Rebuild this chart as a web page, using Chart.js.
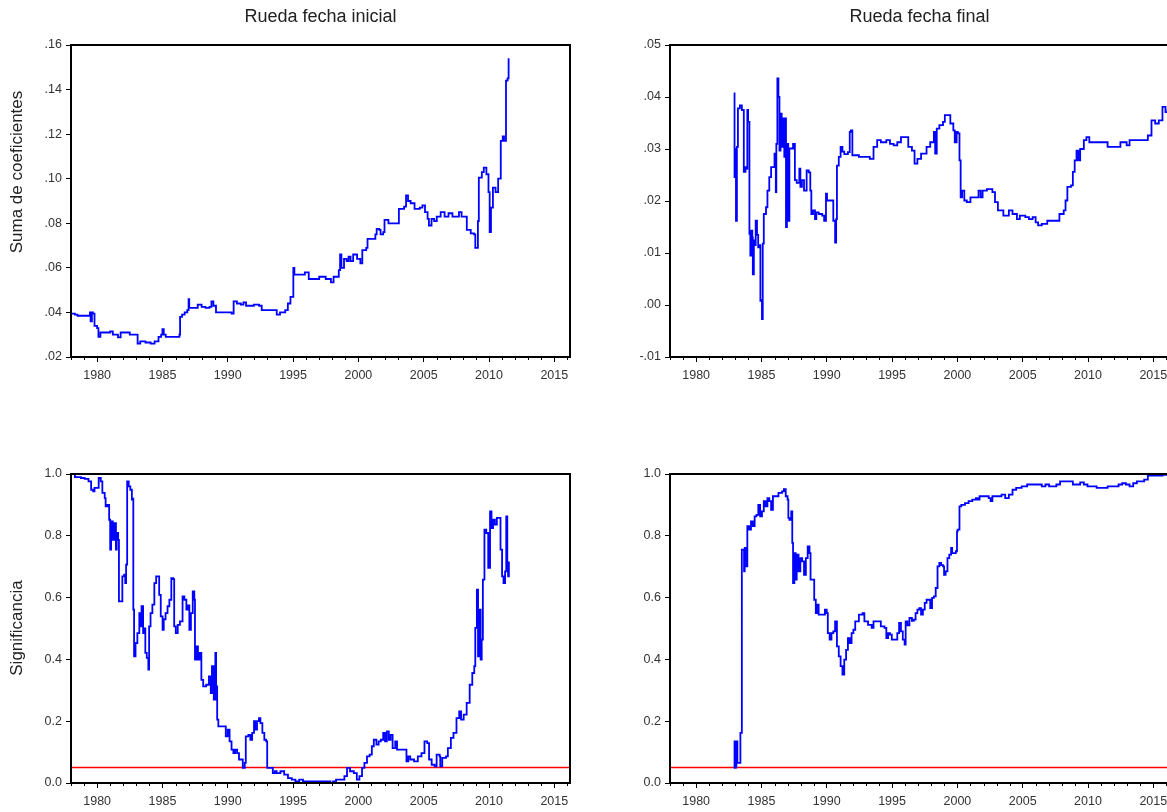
<!DOCTYPE html>
<html>
<head>
<meta charset="utf-8">
<title>Rueda fecha inicial / Rueda fecha final</title>
<script src="https://cdn.jsdelivr.net/npm/chart.js@4.4.1/dist/chart.umd.min.js"></script>
<style>
  html, body { margin: 0; padding: 0; background: #fff; overflow: hidden; }
  #page { position: relative; width: 1167px; height: 812px; overflow: hidden; background: #fff; }
  .panel { position: absolute; width: 600px; height: 410px; }
</style>
</head>
<body>
<div id="page">
  <div class="panel" style="left:0px;top:0px"><canvas id="c1" width="600" height="410"></canvas></div>
  <div class="panel" style="left:599px;top:0px"><canvas id="c2" width="600" height="410"></canvas></div>
  <div class="panel" style="left:0px;top:429px"><canvas id="c3" width="600" height="410"></canvas></div>
  <div class="panel" style="left:599px;top:429px"><canvas id="c4" width="600" height="410"></canvas></div>
</div>
<script>
// values (x = year as decimal)
var sumaInicialX = [1978.0,1978.3,1978.5,1979.3,1979.45,1979.5,1979.6,1979.68,1979.8,1980.0,1980.1,1980.25,1980.6,1981.0,1981.2,1981.5,1981.6,1981.8,1982.4,1982.5,
    1983.0,1983.1,1983.3,1983.7,1984.1,1984.4,1984.7,1984.9,1985.0,1985.1,1985.25,1986.2,1986.3,1986.35,1986.5,1986.7,1986.9,1987.0,1987.05,1987.5,
    1987.7,1988.0,1988.3,1988.6,1988.75,1988.9,1989.1,1989.5,1990.0,1990.3,1990.45,1990.7,1991.0,1991.2,1991.4,1992.0,1992.4,1992.6,1993.0,1993.7,
    1993.75,1994.0,1994.4,1994.6,1994.8,1994.98,1995.02,1995.1,1995.5,1995.9,1996.2,1996.8,1997.0,1997.5,1997.9,1998.1,1998.5,1998.6,1998.7,1998.9,
    1999.1,1999.25,1999.4,1999.6,1999.9,2000.15,2000.3,2000.6,2000.7,2001.0,2001.3,2001.4,2001.6,2001.7,2001.9,2002.0,2002.3,2003.0,2003.1,2003.5,
    2003.65,2003.8,2004.0,2004.3,2004.7,2004.9,2005.1,2005.3,2005.4,2005.6,2005.8,2006.0,2006.3,2006.6,2006.9,2007.2,2007.5,2007.7,2007.9,2008.3,
    2008.6,2008.85,2008.95,2009.08,2009.15,2009.22,2009.45,2009.6,2009.8,2009.96,2010.05,2010.15,2010.3,2010.5,2010.7,2010.9,2011.05,2011.15,2011.3,2011.42,
    2011.5];
var sumaInicialY = [.0395,.039,.0385,.0385,.040,.036,.040,.0395,.034,.033,.029,.031,.031,.0315,.030,.030,.0288,.031,.031,.030,
    .030,.026,.027,.0265,.026,.027,.029,.030,.0325,.030,.029,.029,.030,.038,.039,.040,.041,.046,.042,.042,
    .0435,.0425,.042,.0425,.045,.043,.040,.040,.040,.0395,.045,.044,.0435,.0445,.043,.0435,.043,.041,.041,.041,
    .039,.040,.041,.044,.047,.047,.060,.057,.057,.058,.055,.055,.056,.055,.0535,.056,.059,.066,.060,.064,
    .063,.065,.063,.066,.064,.062,.068,.069,.073,.073,.075,.0775,.077,.075,.076,.0815,.080,.080,.0865,.0875,
    .0925,.090,.089,.0865,.087,.088,.085,.082,.079,.082,.081,.083,.085,.083,.0845,.083,.083,.085,.083,.077,
    .0755,.075,.069,.069,.081,.1005,.103,.105,.102,.094,.076,.087,.096,.094,.100,.117,.119,.117,.144,.145,
    .154];

var sumaFinalX = [1982.88,1982.94,1983.0,1983.05,1983.12,1983.2,1983.35,1983.5,1983.6,1983.65,1983.78,1983.85,1983.92,1983.98,1984.04,1984.08,1984.15,1984.22,1984.3,1984.34,
    1984.42,1984.5,1984.56,1984.66,1984.75,1984.85,1984.92,1985.0,1985.04,1985.1,1985.18,1985.35,1985.46,1985.6,1985.74,1985.88,1986.0,1986.06,1986.1,1986.14,
    1986.22,1986.3,1986.38,1986.46,1986.55,1986.64,1986.75,1986.82,1986.88,1986.95,1987.05,1987.14,1987.3,1987.42,1987.56,1987.7,1987.9,1987.98,1988.1,1988.26,
    1988.46,1988.62,1988.74,1988.82,1988.95,1989.1,1989.2,1989.38,1989.65,1989.8,1989.94,1990.02,1990.36,1990.5,1990.64,1990.72,1990.78,1990.92,1991.06,1991.2,
    1991.34,1991.62,1991.76,1991.85,1991.96,1992.46,1993.3,1993.58,1993.86,1994.14,1994.56,1994.84,1995.12,1995.4,1995.68,1995.96,1996.24,1996.52,1996.72,1996.94,
    1997.22,1997.64,1997.92,1998.2,1998.3,1998.42,1998.62,1998.9,1999.04,1999.32,1999.46,1999.69,1999.8,1999.94,2000.04,2000.16,2000.25,2000.36,2000.53,2000.72,
    2001.0,2001.42,2001.62,2001.78,2001.93,2002.26,2002.68,2002.88,2003.1,2003.52,2003.94,2004.22,2004.56,2004.78,2005.2,2005.48,2005.76,2005.99,2006.18,2006.46,
    2006.88,2007.58,2007.81,2008.14,2008.28,2008.42,2008.7,2008.84,2008.98,2009.12,2009.26,2009.4,2009.68,2009.88,2010.1,2011.22,2011.5,2012.2,2012.48,2012.8,
    2012.96,2013.18,2014.02,2014.58,2014.86,2015.14,2015.42,2015.7,2015.93,2016.1];
var sumaFinalY = [.0407,.0246,.030,.0162,.0304,.0378,.0384,.0375,.0375,.0256,.0265,.0262,.0375,.0352,.0352,.0137,.0095,.0143,.013,.0059,
    .0124,.0115,.0162,.0135,.0111,.0115,.0008,.001,-.0027,.0118,.0175,.0188,.022,.0246,.0265,.0265,.0291,.0291,.0217,.031,
    .0436,.040,.0297,.0368,.0304,.0359,.0285,.0359,.015,.031,.0162,.0301,.0301,.031,.024,.0235,.0262,.0227,.024,.022,
    .0259,.0255,.022,.0175,.0182,.0165,.0178,.0175,.0172,.0162,.0214,.0201,.0201,.0162,.012,.0165,.0268,.0285,.0304,.0295,
    .029,.0294,.0333,.0336,.0288,.0285,.0281,.0304,.0317,.0313,.0317,.031,.0307,.0313,.0323,.0323,.0304,.0297,.0272,.0281,
    .0291,.0304,.0313,.0333,.0291,.0339,.0346,.0352,.0365,.0365,.0349,.0336,.0313,.0333,.033,.0278,.0207,.022,.0201,.0198,
    .0207,.0207,.022,.0207,.022,.0223,.0217,.0198,.0182,.0172,.0182,.0175,.0165,.0172,.0169,.0165,.0169,.0159,.0153,.0156,
    .0162,.0162,.0175,.0182,.0201,.0227,.023,.0256,.0278,.0297,.0278,.030,.0317,.0323,.0313,.0313,.0304,.0304,.0313,.0313,
    .0307,.0317,.0317,.0326,.0355,.0349,.0355,.0381,.0371,.0378];

var sigInicialX = [1978.0,1978.3,1978.76,1979.05,1979.34,1979.54,1979.7,1979.8,1980.0,1980.12,1980.28,1980.4,1980.58,1980.65,1980.78,1980.92,1981.0,1981.07,1981.2,1981.33,
    1981.44,1981.5,1981.61,1981.67,1981.84,1981.93,1982.07,1982.15,1982.22,1982.3,1982.42,1982.54,1982.66,1982.72,1982.77,1982.83,1982.94,1983.08,1983.23,1983.32,
    1983.4,1983.52,1983.6,1983.69,1983.8,1983.92,1983.98,1984.09,1984.23,1984.38,1984.52,1984.66,1984.75,1984.87,1985.01,1985.1,1985.24,1985.39,1985.53,1985.68,
    1985.82,1985.9,1986.02,1986.17,1986.34,1986.54,1986.68,1986.83,1986.97,1987.06,1987.18,1987.32,1987.44,1987.49,1987.61,1987.72,1987.84,1987.98,1988.12,1988.35,
    1988.56,1988.7,1988.79,1988.93,1989.05,1989.11,1989.19,1989.28,1989.56,1989.85,1990.0,1990.14,1990.29,1990.43,1990.57,1990.72,1990.86,1991.15,1991.3,1991.38,
    1991.58,1991.73,1991.87,1992.01,1992.1,1992.24,1992.39,1992.5,1992.65,1992.8,1992.94,1993.02,1993.31,1993.45,1993.6,1993.74,1994.03,1994.32,1994.61,1994.9,
    1995.18,1995.47,1995.76,1996.05,1996.48,1997.06,1997.63,1997.86,1998.06,1998.29,1998.64,1998.93,1999.13,1999.36,1999.65,1999.88,2000.08,2000.28,2000.46,2000.66,
    2000.86,2001.03,2001.18,2001.38,2001.55,2001.72,2001.9,2002.04,2002.18,2002.33,2002.47,2002.62,2002.82,2002.96,2003.25,2003.55,2003.68,2003.82,2003.97,2004.26,
    2004.55,2004.83,2005.06,2005.27,2005.41,2005.61,2005.84,2005.99,2006.22,2006.27,2006.42,2006.71,2006.85,2007.08,2007.28,2007.51,2007.72,2007.86,2008.06,2008.29,
    2008.52,2008.72,2008.87,2008.95,2009.07,2009.16,2009.27,2009.36,2009.44,2009.53,2009.65,2009.79,2009.94,2010.08,2010.19,2010.31,2010.45,2010.6,2010.77,2010.88,
    2011.0,2011.11,2011.23,2011.32,2011.4,2011.46,2011.52];
var sigInicialY = [1.0,.99,.987,.984,.976,.949,.944,.955,.955,.987,.976,.939,.922,.895,.9,.852,.755,.847,.787,.841,
    .755,.809,.787,.588,.588,.669,.674,.647,.707,.976,.96,.949,.917,.92,.561,.41,.453,.485,.55,.507,
    .572,.485,.5,.421,.405,.367,.507,.55,.577,.647,.669,.669,.609,.539,.496,.53,.55,.572,.593,.663,
    .66,.507,.485,.512,.523,.604,.593,.561,.575,.496,.55,.62,.593,.399,.442,.399,.421,.334,.313,.318,
    .345,.291,.378,.27,.421,.313,.205,.183,.183,.151,.173,.135,.108,.097,.108,.097,.076,.049,.065,.151,
    .156,.14,.162,.2,.173,.2,.21,.194,.162,.14,.135,.049,.049,.032,.038,.032,.038,.027,.016,.011,
    .005,.011,.005,.005,.005,.005,.005,0,.005,.011,.011,.022,.049,.038,.032,.011,.022,.049,.065,.086,
    .092,.119,.14,.124,.135,.14,.162,.135,.167,.14,.156,.113,.135,.108,.108,.108,.07,.086,.076,.07,
    .086,.097,.135,.129,.076,.059,.054,.092,.086,.054,.081,.086,.113,.146,.162,.21,.232,.205,.221,.259,
    .318,.356,.378,.502,.626,.41,.561,.399,.464,.658,.82,.809,.696,.879,.825,.852,.836,.858,.858,.755,
    .669,.647,.685,.863,.712,.669,.717];

var sigFinalX = [1982.88,1982.94,1983.01,1983.08,1983.16,1983.3,1983.39,1983.45,1983.5,1983.58,1983.67,1983.72,1983.78,1983.92,1984.06,1984.2,1984.34,1984.48,1984.62,1984.76,
    1984.9,1985.04,1985.18,1985.32,1985.46,1985.6,1985.74,1985.88,1986.16,1986.3,1986.58,1986.72,1986.86,1987.0,1987.06,1987.14,1987.28,1987.36,1987.42,1987.52,
    1987.62,1987.7,1987.84,1987.98,1988.12,1988.26,1988.4,1988.54,1988.68,1988.76,1988.9,1989.04,1989.16,1989.24,1989.38,1989.66,1989.86,1990.0,1990.08,1990.22,
    1990.36,1990.5,1990.64,1990.78,1990.92,1991.06,1991.2,1991.34,1991.48,1991.62,1991.76,1991.9,1992.04,1992.18,1992.46,1992.74,1992.88,1993.16,1993.44,1993.58,
    1993.86,1994.14,1994.42,1994.56,1994.7,1994.84,1994.98,1995.2,1995.4,1995.54,1995.68,1995.82,1995.96,1996.04,1996.18,1996.33,1996.52,1996.66,1996.8,1996.94,
    1997.08,1997.22,1997.36,1997.5,1997.64,1997.92,1998.06,1998.2,1998.34,1998.48,1998.62,1998.76,1998.9,1998.98,1999.1,1999.24,1999.38,1999.52,1999.6,1999.74,
    1999.88,1999.97,2000.02,2000.16,2000.3,2000.58,2000.86,2001.14,2001.42,2001.56,2001.7,2002.12,2002.4,2002.54,2002.68,2003.1,2003.38,2003.66,2003.94,2004.22,
    2004.5,2004.92,2005.34,2006.18,2006.46,2006.74,2007.02,2007.58,2007.86,2008.7,2008.84,2009.12,2009.4,2009.68,2009.96,2010.38,2010.66,2011.08,2011.5,2012.34,
    2012.62,2012.9,2013.18,2013.46,2013.74,2014.02,2014.3,2014.58,2015.7,2016.15];
var sigFinalY = [.049,.135,.05,.135,.065,.065,.162,.162,.755,.755,.685,.761,.701,.831,.82,.847,.831,.863,.868,.9,
    .863,.879,.912,.895,.922,.912,.884,.928,.928,.939,.944,.951,.928,.917,.858,.852,.879,.777,.647,.744,
    .658,.739,.685,.728,.717,.674,.728,.766,.744,.658,.658,.593,.55,.577,.545,.545,.561,.55,.485,.464,
    .485,.491,.523,.442,.41,.378,.351,.399,.431,.469,.453,.485,.496,.523,.545,.55,.523,.512,.502,.523,
    .523,.507,.502,.469,.485,.48,.464,.464,.485,.518,.491,.464,.448,.523,.51,.534,.525,.529,.55,.561,
    .566,.545,.561,.583,.593,.566,.599,.604,.631,.701,.712,.705,.701,.674,.685,.728,.739,.761,.744,.744,
    .75,.814,.82,.895,.9,.906,.912,.917,.922,.917,.928,.928,.922,.912,.928,.928,.933,.922,.933,.949,
    .955,.96,.966,.966,.96,.966,.96,.966,.976,.976,.966,.966,.973,.966,.96,.96,.955,.955,.96,.966,
    .97,.966,.96,.97,.976,.976,.982,.995,.997,.997];

// axis ticks and their labels
var yearTicks = [1980, 1985, 1990, 1995, 2000, 2005, 2010, 2015];
var sumaInicialTicks = [.02, .04, .06, .08, .10, .12, .14, .16];
var sumaInicialLabels = ['.02', '.04', '.06', '.08', '.10', '.12', '.14', '.16'];
var sumaFinalTicks = [-.01, .00, .01, .02, .03, .04, .05];
var sumaFinalLabels = ['-.01', '.00', '.01', '.02', '.03', '.04', '.05'];
var sigTicks = [0, .2, .4, .6, .8, 1.0];
var sigLabels = ['0.0', '0.2', '0.4', '0.6', '0.8', '1.0'];
var nivel = 0.05;

var FONT = '"Liberation Sans", Arial, sans-serif';

var toPoints = function(xs, ys) {
    var pts = [];
    for (var i = 0; i < xs.length; i++)
        pts.push({x: xs[i], y: ys[i]});
    return pts;
};

// EViews look: box round the plot, short minor year ticks, titles
var eviewsFrame = {
    id: 'eviewsFrame',
    afterDraw: function(chart, args, opts) {
        var ctx = chart.ctx, a = chart.chartArea, xs = chart.scales.x;
        ctx.save();
        ctx.strokeStyle = '#000';
        ctx.lineWidth = 1;
        for (var yr = 1978; yr <= 2016; yr++) {
            if (yr % 5 == 0) continue;
            var px = Math.round(xs.getPixelForValue(yr)) + 0.5;
            ctx.beginPath();
            ctx.moveTo(px, a.bottom);
            ctx.lineTo(px, a.bottom + 3);
            ctx.stroke();
        }
        ctx.lineWidth = 2;
        ctx.strokeRect(a.left, a.top, a.right - a.left, a.bottom - a.top);

        ctx.fillStyle = '#222';
        ctx.textAlign = 'center';
        ctx.textBaseline = 'middle';
        if (opts.title) {
            ctx.font = '18px ' + FONT;
            ctx.fillText(opts.title, (a.left + a.right) / 2, 17);
        }
        if (opts.yTitle) {
            ctx.font = '17px ' + FONT;
            ctx.translate(17, opts.yTitleAt);
            ctx.rotate(-Math.PI / 2);
            ctx.fillText(opts.yTitle, 0, 0);
        }
        ctx.restore();
    }
};

var makePanel = function(id, cfg) {
    var datasets = [{
        data: toPoints(cfg.xs, cfg.ys),
        borderColor: '#0000ff',
        borderWidth: 1.8,
        pointRadius: 0,
        stepped: true
    }];
    if (cfg.nivel != null) {
        datasets.push({
            data: [{x: 1978, y: cfg.nivel}, {x: 2016.2, y: cfg.nivel}],
            borderColor: '#ff0000',
            borderWidth: 1.6,
            pointRadius: 0
        });
    }
    return new Chart(document.getElementById(id), {
        type: 'line',
        data: {datasets: datasets},
        options: {
            responsive: false,
            animation: false,
            devicePixelRatio: 1,
            layout: {padding: {top: 45, right: 30, left: 0, bottom: 0}},
            plugins: {
                legend: {display: false},
                tooltip: {enabled: false},
                eviewsFrame: {title: cfg.title, yTitle: cfg.yTitle, yTitleAt: cfg.yTitleAt}
            },
            scales: {
                x: {
                    type: 'linear',
                    min: 1978,
                    max: 2016.2,
                    afterBuildTicks: function(s) {
                        s.ticks = yearTicks.map(function(v) { return {value: v}; });
                    },
                    afterFit: function(s) { s.height = cfg.xHeight; },
                    ticks: {
                        autoSkip: false,
                        maxRotation: 0,
                        padding: 6,
                        color: '#333',
                        font: {family: FONT, size: 12.5},
                        callback: function(v) { return String(v); }
                    },
                    grid: {drawOnChartArea: false, drawTicks: true, tickLength: 5, color: '#000', lineWidth: 1},
                    border: {display: false}
                },
                y: {
                    type: 'linear',
                    min: cfg.yTicks[0],
                    max: cfg.yTicks[cfg.yTicks.length - 1],
                    afterBuildTicks: function(s) {
                        s.ticks = cfg.yTicks.map(function(v) { return {value: v}; });
                    },
                    afterFit: function(s) { s.width = 71; },
                    ticks: {
                        padding: 4,
                        color: '#333',
                        font: {family: FONT, size: 12.5},
                        callback: function(v, i) { return cfg.yLabels[i]; }
                    },
                    grid: {drawOnChartArea: false, drawTicks: true, tickLength: 5, color: '#000', lineWidth: 1},
                    border: {display: false}
                }
            }
        },
        plugins: [eviewsFrame]
    });
};

makePanel('c1', {xs: sumaInicialX, ys: sumaInicialY, yTicks: sumaInicialTicks, yLabels: sumaInicialLabels,
    title: 'Rueda fecha inicial', yTitle: 'Suma de coeficientes', yTitleAt: 172, xHeight: 53});
makePanel('c2', {xs: sumaFinalX, ys: sumaFinalY, yTicks: sumaFinalTicks, yLabels: sumaFinalLabels,
    title: 'Rueda fecha final', xHeight: 53});
makePanel('c3', {xs: sigInicialX, ys: sigInicialY, yTicks: sigTicks, yLabels: sigLabels, nivel: nivel,
    yTitle: 'Significancia', yTitleAt: 199, xHeight: 56});
makePanel('c4', {xs: sigFinalX, ys: sigFinalY, yTicks: sigTicks, yLabels: sigLabels, nivel: nivel,
    xHeight: 56});
</script>
</body>
</html>
